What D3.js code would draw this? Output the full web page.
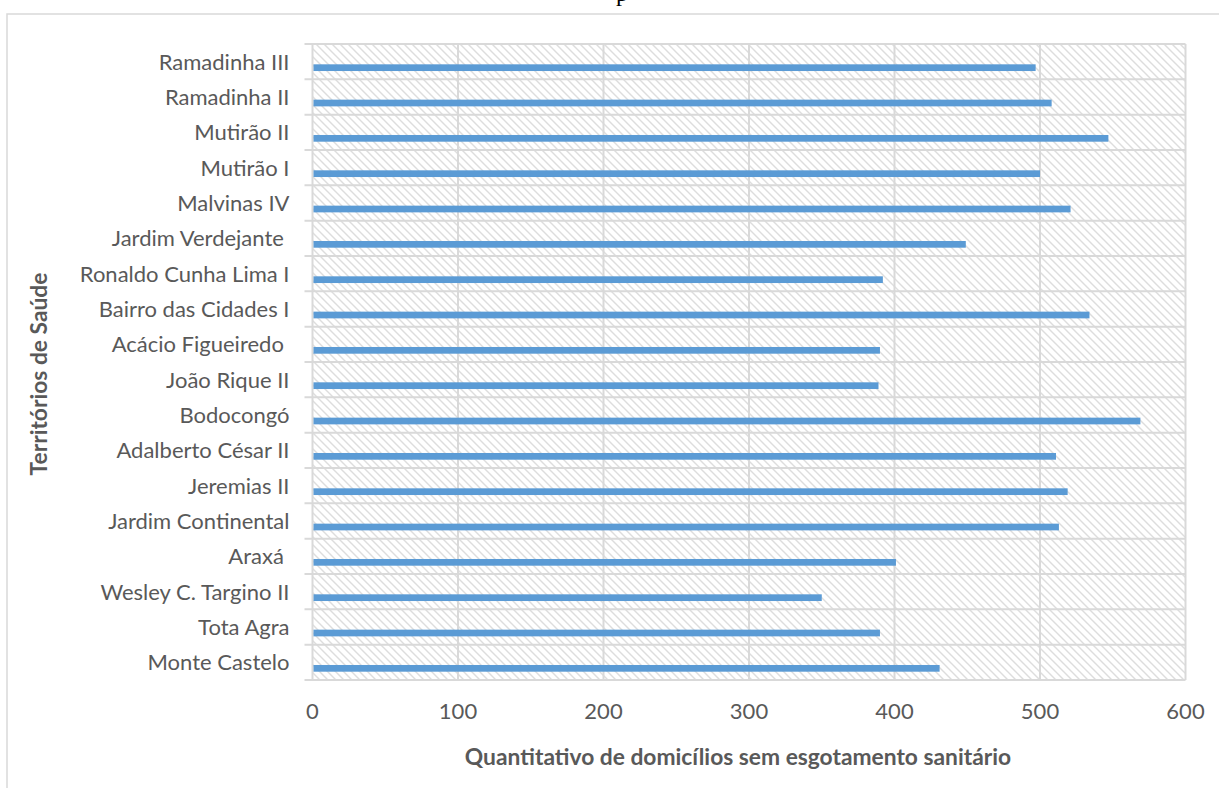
<!DOCTYPE html>
<html><head><meta charset="utf-8">
<script src="https://cdn.jsdelivr.net/npm/d3@7"></script>
<style>
html,body{margin:0;padding:0;background:#fff;}
svg{display:block;}
text{white-space:pre;}
</style></head>
<body>
<script>
// Data (bottom-to-top order as in the source chart)
const categories = ["Monte Castelo","Tota Agra","Wesley C. Targino II","Araxá ","Jardim Continental","Jeremias II","Adalberto César II","Bodocongó","João Rique II","Acácio Figueiredo ","Bairro das Cidades I","Ronaldo Cunha Lima I","Jardim Verdejante ","Malvinas IV","Mutirão I","Mutirão II","Ramadinha II","Ramadinha III"];
const values = [431,390,350,401,513,519,511,569,389,390,534,392,449,521,500,547,508,497];
const xTicks = [0,100,200,300,400,500,600];
const xTitle = "Quantitativo de domicílios sem esgotamento sanitário";
const yTitle = "Territórios de Saúde";

const W = 1219, H = 788;
const m = {left:312.5, right:W-1185.5, top:44, bottom:H-680};
const svg = d3.select("body").append("svg").attr("width",W).attr("height",H);

const defs = svg.append("defs");
const pat = defs.append("pattern").attr("id","hatch").attr("patternUnits","userSpaceOnUse")
  .attr("width",8).attr("height",8);
pat.append("rect").attr("width",8).attr("height",8).attr("fill","#fff");
pat.append("path").attr("d","M-2,-2L10,10M-2,6L2,10M6,-2L10,2")
  .attr("stroke","#dddddd").attr("stroke-width",1.4).attr("fill","none");

// outer frame (partial, as cropped)
svg.append("path").attr("d",`M7,${H}V14H${W}`).attr("fill","none").attr("stroke","#d9d9d9").attr("stroke-width",1.5);
// cut-off caption glyph at top
svg.append("text").attr("x",616).attr("y",1).attr("font-family","Liberation Serif").attr("font-size",24).attr("fill","#000").text("p");

const x = d3.scaleLinear().domain([0,600]).range([m.left, W-m.right]);
const y = d3.scaleBand().domain(categories.slice().reverse()).range([m.top, H-m.bottom]).paddingInner(0).paddingOuter(0);

// plot background hatch
svg.append("rect").attr("x",x(0)).attr("y",m.top).attr("width",x(600)-x(0)).attr("height",H-m.bottom-m.top).attr("fill","url(#hatch)");

const grid = "#d9d9d9";
// vertical gridlines
svg.append("g").selectAll("line").data(xTicks.slice(1)).join("line")
  .attr("x1",d=>x(d)).attr("x2",d=>x(d)).attr("y1",m.top).attr("y2",H-m.bottom)
  .attr("stroke",grid).attr("stroke-width",2);
// horizontal band boundaries
const bounds = y.domain().map(c=>y(c)).concat([H-m.bottom]);
svg.append("g").selectAll("line").data(bounds).join("line")
  .attr("x1",x(0)-8).attr("x2",x(600)).attr("y1",d=>d).attr("y2",d=>d)
  .attr("stroke",grid).attr("stroke-width",2);
// y axis line
svg.append("line").attr("x1",x(0)).attr("x2",x(0)).attr("y1",m.top).attr("y2",H-m.bottom).attr("stroke",grid).attr("stroke-width",2);

// bars
const bw = y.bandwidth();
svg.append("g").selectAll("rect").data(categories).join("rect")
  .attr("x",x(0)+1).attr("y",(d)=>y(d)+bw*0.575).attr("height",bw*0.19)
  .attr("width",(d,i)=>x(values[i])-x(0)-1).attr("fill","#5b9bd5");

const font = "Lato, 'Open Sans', sans-serif";
const tc = "#595959";
// category labels
svg.append("g").selectAll("text").data(categories).join("text")
  .attr("x",289.5).attr("y",d=>y(d)+bw/2+8).attr("text-anchor","end")
  .attr("font-family",font).attr("font-size",22).attr("fill",tc).text(d=>d);
// x tick labels
svg.append("g").selectAll("text").data(xTicks).join("text")
  .attr("x",d=>x(d)).attr("y",719).attr("text-anchor","middle")
  .attr("font-family",font).attr("font-size",22).attr("fill",tc).text(d=>d);
// axis titles
svg.append("text").attr("x",738).attr("y",765).attr("text-anchor","middle")
  .attr("font-family",font).attr("font-weight","bold").attr("font-size",22.8).attr("fill",tc).text(xTitle);
svg.append("text").attr("transform","translate(47,374) rotate(-90)").attr("text-anchor","middle")
  .attr("font-family",font).attr("font-weight","bold").attr("font-size",22.8).attr("fill",tc).text(yTitle);
</script>
</body></html>
